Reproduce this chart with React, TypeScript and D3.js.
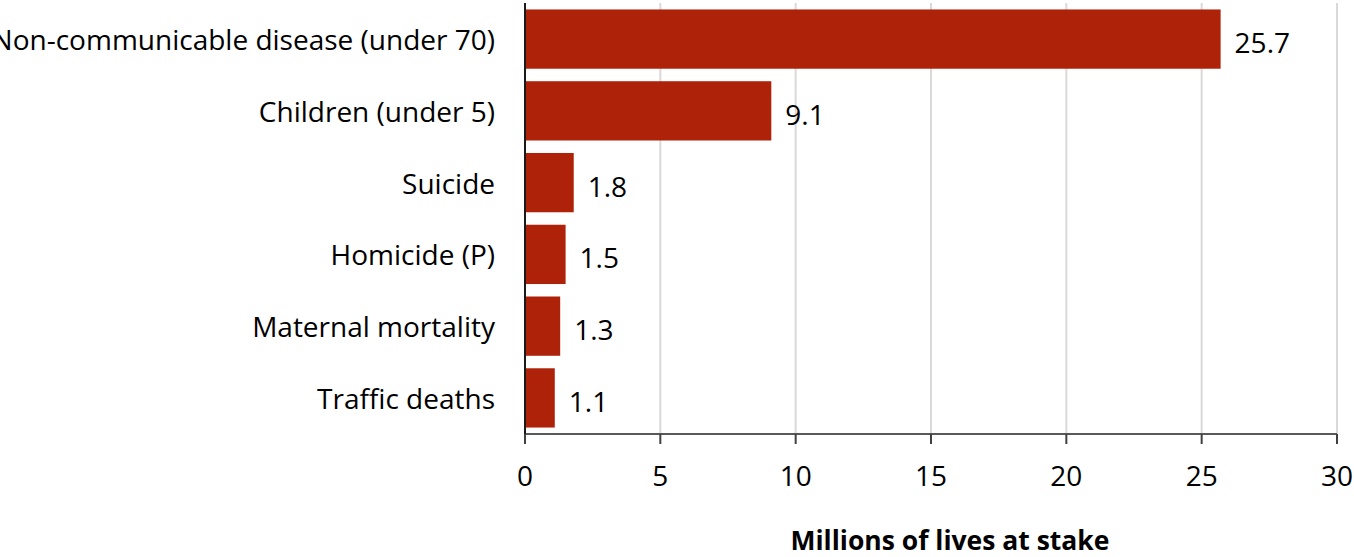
import React from "react";
import * as d3 from "d3";

// Lives at stake by cause, in millions
const categories: string[] = [
  "Non-communicable disease (under 70)",
  "Children (under 5)",
  "Suicide",
  "Homicide (P)",
  "Maternal mortality",
  "Traffic deaths",
];
const values: number[] = [25.7, 9.1, 1.8, 1.5, 1.3, 1.1];
const valueLabels: string[] = ["25.7", "9.1", "1.8", "1.5", "1.3", "1.1"];
const xTicks: number[] = [0, 5, 10, 15, 20, 25, 30];
const axisTitle = "Millions of lives at stake";

const WIDTH = 1354;
const HEIGHT = 557;
const FONT = "'Open Sans', 'Noto Sans', sans-serif";
const BAR_COLOR = "#AE2209";
const FONT_SIZE = 28;

export default function App() {
  const left = 525;
  const right = 1337;
  const top = 3;
  const bottom = 434;

  const x = d3.scaleLinear().domain([0, 30]).range([left, right]);
  const y = d3
    .scaleBand<string>()
    .domain(categories)
    .range([top, bottom])
    .paddingInner(0.174)
    .paddingOuter(0.09);

  return (
    <svg
      width={WIDTH}
      height={HEIGHT}
      style={{ position: "absolute", left: 0, top: 0, background: "#fff" }}
      fontFamily={FONT}
    >
      {/* vertical gridlines */}
      {xTicks
        .filter((t) => t > 0)
        .map((t) => (
          <line
            key={`g${t}`}
            x1={x(t)}
            x2={x(t)}
            y1={top}
            y2={bottom}
            stroke="#d9d9d9"
            strokeWidth={2}
          />
        ))}

      {/* bars */}
      {categories.map((c, i) => (
        <rect
          key={c}
          x={x(0)}
          y={y(c)}
          width={x(values[i]) - x(0)}
          height={y.bandwidth()}
          fill={BAR_COLOR}
        />
      ))}

      {/* value labels */}
      {categories.map((c, i) => (
        <text
          key={`v${c}`}
          x={x(values[i]) + 14}
          y={(y(c) as number) + y.bandwidth() / 2 + 3}
          dominantBaseline="central"
          fontSize={FONT_SIZE}
          fill="#000"
        >
          {valueLabels[i]}
        </text>
      ))}

      {/* category labels */}
      {categories.map((c) => (
        <text
          key={`c${c}`}
          x={left - 30}
          y={(y(c) as number) + y.bandwidth() / 2}
          dominantBaseline="central"
          textAnchor="end"
          fontSize={FONT_SIZE}
          fill="#000"
        >
          {c}
        </text>
      ))}

      {/* x axis line and ticks */}
      <line x1={left} x2={right} y1={bottom} y2={bottom} stroke="#595959" strokeWidth={2} />
      {xTicks.map((t) => (
        <g key={`t${t}`}>
          <line x1={x(t)} x2={x(t)} y1={bottom} y2={bottom + 10} stroke="#404040" strokeWidth={2} />
          <text
            x={x(t)}
            y={bottom + 41}
            dominantBaseline="central"
            textAnchor="middle"
            fontSize={FONT_SIZE}
            fill="#000"
          >
            {t}
          </text>
        </g>
      ))}

      {/* y axis line */}
      <line x1={left} x2={left} y1={top} y2={bottom} stroke="#1a1a1a" strokeWidth={2} />

      {/* axis title */}
      <text
        x={950}
        y={540}
        dominantBaseline="central"
        textAnchor="middle"
        fontSize={26.5}
        fontWeight="bold"
        fill="#000"
      >
        {axisTitle}
      </text>
    </svg>
  );
}
